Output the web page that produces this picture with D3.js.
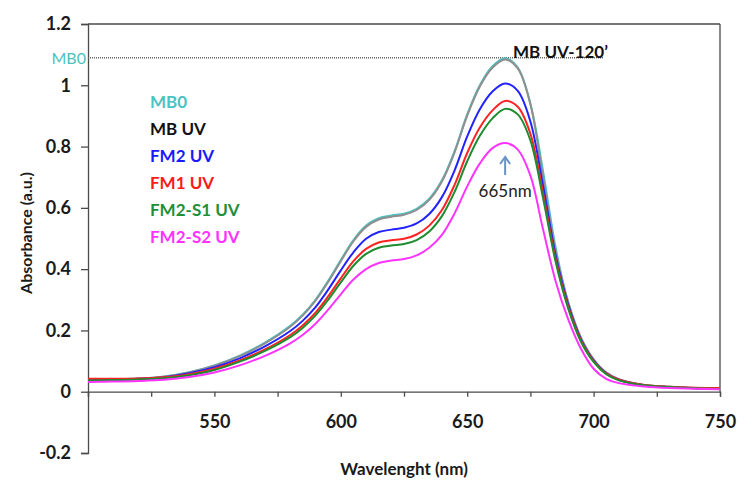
<!DOCTYPE html>
<html>
<head>
<meta charset="utf-8">
<script src="https://cdn.jsdelivr.net/npm/d3@7"></script>
<style>
  body { margin: 0; background: #fff; }
  text { font-family: Lato, "Open Sans", sans-serif; }
</style>
</head>
<body>
<div id="chart"></div>
<script>
// Wavelengths (nm)
var wavelengths = [500, 510, 520, 530, 540, 550, 560, 570, 580, 585, 590, 595, 600, 605, 610, 615, 620, 625, 630, 635,
                   640, 645, 650, 655, 660, 665, 670, 675, 680, 685, 690, 695, 700, 705, 710, 720, 730, 740, 750];

// Absorbance of each sample
var mb0 = [0.040, 0.041, 0.043, 0.050, 0.064, 0.086, 0.118, 0.160, 0.215, 0.252, 0.300, 0.362, 0.430, 0.495, 0.542, 0.566, 0.575, 0.581, 0.597, 0.630,
           0.690, 0.785, 0.905, 1.000, 1.062, 1.088, 1.058, 0.940, 0.720, 0.470, 0.290, 0.175, 0.105, 0.062, 0.040, 0.022, 0.016, 0.012, 0.010];
var mbUV = [0.040, 0.041, 0.043, 0.049, 0.063, 0.085, 0.116, 0.158, 0.212, 0.249, 0.297, 0.358, 0.426, 0.491, 0.538, 0.562, 0.571, 0.577, 0.593, 0.626,
            0.686, 0.781, 0.901, 0.996, 1.057, 1.084, 1.055, 0.938, 0.700, 0.456, 0.291, 0.176, 0.106, 0.063, 0.041, 0.022, 0.016, 0.012, 0.010];
var fm2UV = [0.039, 0.040, 0.042, 0.047, 0.060, 0.080, 0.109, 0.148, 0.198, 0.232, 0.276, 0.333, 0.396, 0.455, 0.499, 0.521, 0.529, 0.535, 0.549, 0.580,
             0.635, 0.722, 0.833, 0.922, 0.980, 1.006, 0.982, 0.882, 0.672, 0.445, 0.283, 0.171, 0.102, 0.060, 0.039, 0.021, 0.015, 0.011, 0.009];
var fm1UV = [0.042, 0.042, 0.043, 0.047, 0.057, 0.075, 0.102, 0.138, 0.185, 0.217, 0.258, 0.311, 0.370, 0.426, 0.466, 0.487, 0.494, 0.499, 0.513, 0.542,
             0.593, 0.675, 0.779, 0.862, 0.918, 0.949, 0.930, 0.842, 0.648, 0.432, 0.276, 0.167, 0.100, 0.059, 0.039, 0.022, 0.016, 0.013, 0.012];
var fm2s1UV = [0.037, 0.038, 0.040, 0.044, 0.054, 0.071, 0.098, 0.133, 0.178, 0.209, 0.249, 0.300, 0.357, 0.411, 0.450, 0.470, 0.477, 0.482, 0.495, 0.523,
               0.573, 0.652, 0.752, 0.835, 0.892, 0.923, 0.905, 0.820, 0.632, 0.423, 0.270, 0.163, 0.097, 0.057, 0.037, 0.021, 0.015, 0.011, 0.009];
var fm2s2UV = [0.032, 0.033, 0.035, 0.039, 0.048, 0.063, 0.086, 0.117, 0.158, 0.186, 0.222, 0.268, 0.318, 0.366, 0.400, 0.420, 0.428, 0.433, 0.445, 0.470,
               0.512, 0.582, 0.670, 0.745, 0.795, 0.812, 0.790, 0.705, 0.530, 0.360, 0.235, 0.140, 0.075, 0.042, 0.028, 0.017, 0.012, 0.010, 0.008];

var seriesNames = ["MB0", "MB UV", "FM2 UV", "FM1 UV", "FM2-S1 UV", "FM2-S2 UV"];
var legendColors = ["#4cc2c2", "#111111", "#1a1aff", "#ff1a1a", "#1f8f3a", "#ff33ff"];
var lineColors = ["#4cc2c2", "#8f8f8f", "#2222ff", "#ff2222", "#1e8c2e", "#ff33ff"];
var seriesValues = [mb0, mbUV, fm2UV, fm1UV, fm2s1UV, fm2s2UV];

var xTicks = [500, 525, 550, 575, 600, 625, 650, 675, 700, 725, 750];
var xLabels = [550, 600, 650, 700, 750];
var yTicks = [-0.2, 0, 0.2, 0.4, 0.6, 0.8, 1, 1.2];
var mb0Level = 1.09;

var width = 754, height = 493;

var svg = d3.select("#chart").append("svg")
  .attr("width", width)
  .attr("height", height);

var x = d3.scaleLinear().domain([500, 750]).range([88, 720]);
var y = d3.scaleLinear().domain([-0.2, 1.2]).range([453, 24]);

var axisColor = "#4a4a4a";

// Plot frame (top and right)
svg.append("line")
  .attr("x1", x(500)).attr("x2", x(750))
  .attr("y1", y(1.2)).attr("y2", y(1.2))
  .attr("stroke", axisColor).attr("stroke-width", 1.3);
svg.append("line")
  .attr("x1", x(750)).attr("x2", x(750))
  .attr("y1", y(1.2)).attr("y2", y(0))
  .attr("stroke", axisColor).attr("stroke-width", 1.3);

// Y axis
var yAxis = svg.append("g")
  .attr("transform", "translate(" + x(500) + ",0)")
  .call(d3.axisLeft(y).tickValues(yTicks).tickSize(7).tickPadding(10)
    .tickFormat(function(d){ return String(+d.toFixed(1)); }));
yAxis.select(".domain").attr("stroke", axisColor).attr("stroke-width", 1.3);
yAxis.selectAll(".tick line").attr("stroke", axisColor).attr("stroke-width", 1.3);
yAxis.selectAll(".tick text")
  .style("font-size", "18px").style("font-weight", "bold").attr("fill", "#1a1a1a");

// X axis at y = 0
var xAxis = svg.append("g")
  .attr("transform", "translate(0," + y(0) + ")")
  .call(d3.axisBottom(x).tickValues(xTicks).tickSize(5).tickPadding(19)
    .tickFormat(function(d){ return xLabels.indexOf(d) >= 0 ? d : ""; }));
xAxis.select(".domain").attr("stroke", axisColor).attr("stroke-width", 1.3);
xAxis.selectAll(".tick line").attr("stroke", axisColor).attr("stroke-width", 1.3);
xAxis.selectAll(".tick text")
  .style("font-size", "18px").style("font-weight", "bold").attr("fill", "#1a1a1a");

// Dotted reference line at MB0 peak
svg.append("line")
  .attr("x1", x(500)).attr("x2", x(704))
  .attr("y1", y(mb0Level)).attr("y2", y(mb0Level))
  .attr("stroke", "#666").attr("stroke-width", 1.4)
  .attr("stroke-dasharray", "1,1");

svg.append("text")
  .attr("x", x(500) - 2).attr("y", y(mb0Level))
  .attr("text-anchor", "end").attr("dominant-baseline", "central")
  .style("font-size", "16px").attr("fill", "#4cc2c2")
  .text("MB0");

svg.append("text")
  .attr("x", 513).attr("y", 51)
  .attr("dominant-baseline", "central")
  .style("font-size", "17px").style("font-weight", "bold").attr("fill", "#111")
  .text("MB UV-120\u2019");

// Spectra
var line = d3.line()
  .x(function(d){ return x(d[0]); })
  .y(function(d){ return y(d[1]); })
  .curve(d3.curveCatmullRom.alpha(0.5));

seriesValues.forEach(function(vals, i){
  svg.append("path")
    .datum(wavelengths.map(function(w, j){ return [w, vals[j]]; }))
    .attr("d", line)
    .attr("fill", "none")
    .attr("stroke", lineColors[i])
    .attr("stroke-width", 2);
});

// Legend
svg.selectAll("text.legend")
  .data(seriesNames)
  .enter()
  .append("text")
  .attr("class", "legend")
  .attr("x", 150)
  .attr("y", function(d, i){ return 101 + i * 27; })
  .attr("dominant-baseline", "central")
  .style("font-size", "17px").style("font-weight", "bold")
  .attr("fill", function(d, i){ return legendColors[i]; })
  .text(function(d){ return d; });

// 665 nm marker
svg.append("line")
  .attr("x1", x(665)).attr("x2", x(665))
  .attr("y1", 175).attr("y2", 158)
  .attr("stroke", "#6a93c4").attr("stroke-width", 2);
svg.append("path")
  .attr("d", "M" + (x(665) - 5) + ",164 L" + x(665) + ",157 L" + (x(665) + 5) + ",164")
  .attr("fill", "none").attr("stroke", "#6a93c4").attr("stroke-width", 2);
svg.append("text")
  .attr("x", x(665)).attr("y", 190)
  .attr("text-anchor", "middle").attr("dominant-baseline", "central")
  .style("font-size", "17px").attr("fill", "#222")
  .text("665nm");

// Axis titles
svg.append("text")
  .attr("x", 404).attr("y", 468)
  .attr("text-anchor", "middle").attr("dominant-baseline", "central")
  .style("font-size", "17px").style("font-weight", "bold").attr("fill", "#1a1a1a")
  .text("Wavelenght (nm)");
svg.append("text")
  .attr("transform", "translate(25,233) rotate(-90)")
  .attr("text-anchor", "middle").attr("dominant-baseline", "central")
  .style("font-size", "16px").style("font-weight", "bold").attr("fill", "#1a1a1a")
  .text("Absorbance (a.u.)");
</script>
</body>
</html>
